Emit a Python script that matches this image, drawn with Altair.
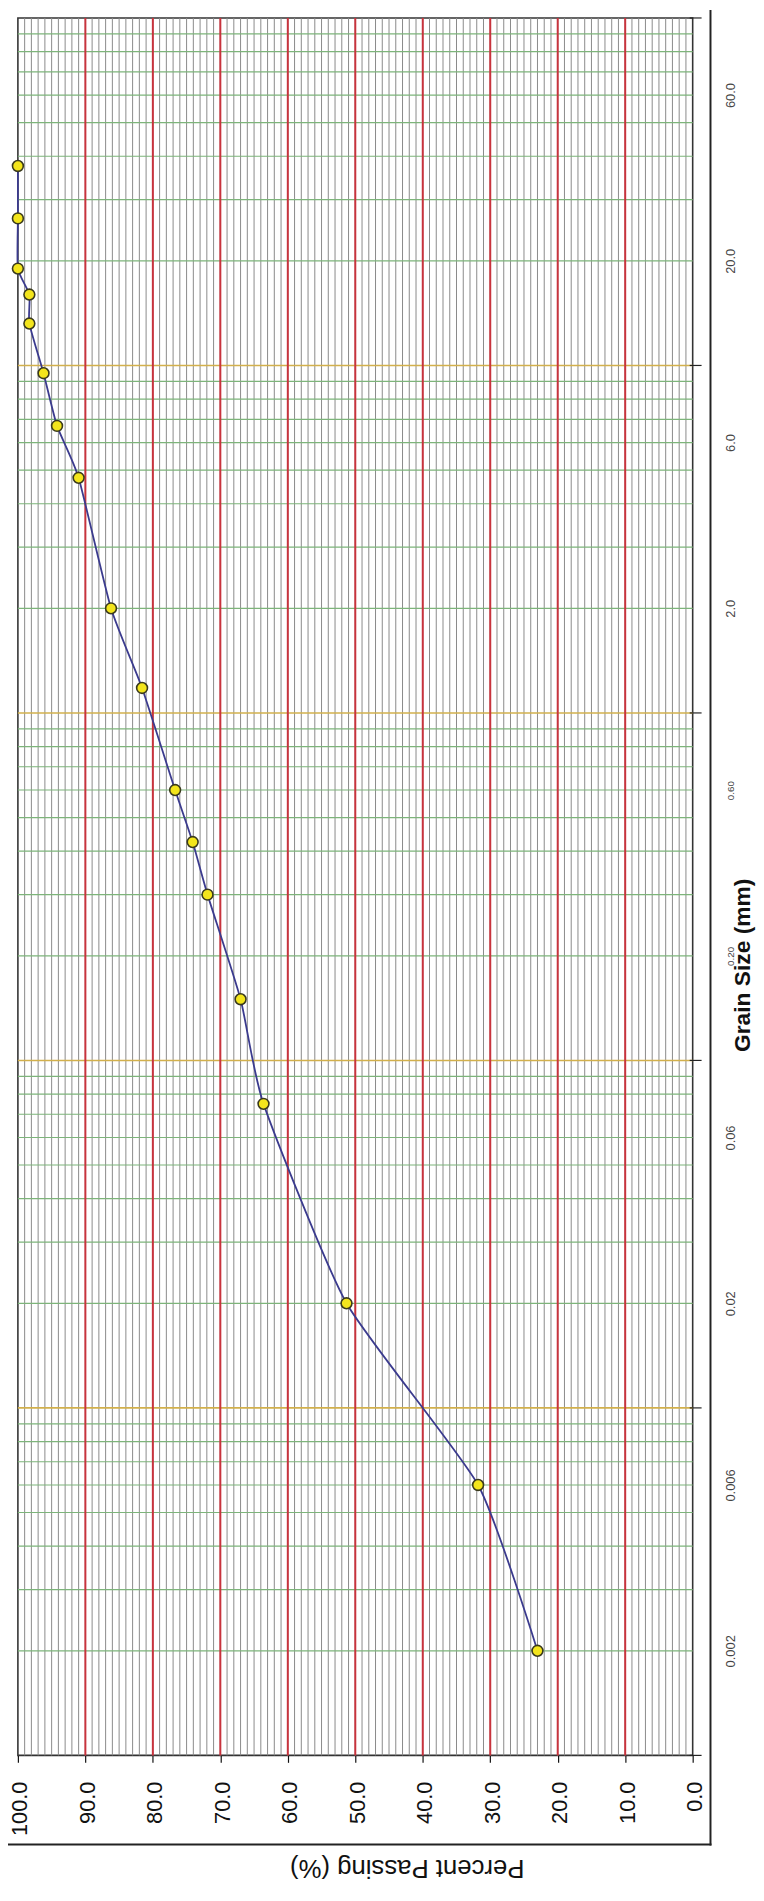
import altair as alt
import pandas as pd

# ---- data ----
grain_size_mm = [37.5, 26.5, 19.0, 16.0, 13.2, 9.5, 6.7, 4.75, 2.0, 1.18,
                 0.6, 0.425, 0.3, 0.15, 0.075, 0.02, 0.006, 0.002]
percent_passing = [100.0, 100.0, 100.0, 98.3, 98.3, 96.2, 94.2, 91.0, 86.2, 81.6,
                   76.7, 74.1, 71.9, 67.0, 63.6, 51.3, 31.8, 23.0]

percent_ticks = [0, 10, 20, 30, 40, 50, 60, 70, 80, 90, 100]
size_label_values = [0.002, 0.006, 0.02, 0.06, 0.2, 0.6, 2.0, 6.0, 20.0, 60.0]

# grid positions (graph-paper lines, frame drawn separately)
percent_grid_minor = list(range(1, 100))
percent_grid_major = [10, 20, 30, 40, 50, 60, 70, 80, 90]
size_decades_inner = [0.01, 0.1, 1.0, 10.0]
size_decade_ticks = [0.001, 0.01, 0.1, 1.0, 10.0, 100.0]
size_subdivisions = [k * d for d in [0.001, 0.01, 0.1, 1.0, 10.0] for k in range(2, 10)]

W, H = 682, 1756

pts = pd.DataFrame({"size": grain_size_mm, "pct": percent_passing,
                    "idx": list(range(len(grain_size_mm)))})

x_scale = alt.Scale(domain=[0, 100], reverse=True, nice=False, zero=False)
y_scale = alt.Scale(type="log", domain=[0.001, 100], nice=False)

x_axis = alt.Axis(
    values=percent_ticks, format=".1f", labelAngle=270, labelAlign="right",
    labelBaseline="middle", labelFontSize=22, labelFont="Liberation Sans",
    labelColor="#111111", labelPadding=19, labelOffset=2, labelFlush=False,
    labelOverlap=False, tickSize=7, tickColor="#111111", tickWidth=1.2,
    domain=False, grid=False,
    title="Percent Passing (%)", titleAngle=180, titleFontSize=26,
    titleFont="Liberation Sans", titleFontWeight="normal", titleColor="#111111",
    titleX=393, titleY=113, titleAlign="center", titleBaseline="middle")

y_axis = alt.Axis(
    orient="right", values=size_label_values,
    labelExpr="datum.value >= 1 ? format(datum.value, '.1f') : (datum.value >= 0.1 ? format(datum.value, '.2f') : format(datum.value, '~g'))",
    labelAngle=270, labelAlign="center", labelBaseline="middle",
    labelFontSize={"condition": {"test": "datum.value > 0.1 && datum.value < 1", "value": 10}, "value": 13},
    labelFont="Liberation Sans", labelColor="#444444", labelPadding=38,
    labelFlush=False, labelOverlap=False, ticks=False, tickSize=0,
    domain=False, grid=False,
    title="Grain Size (mm)", titleAngle=270, titleFontSize=23,
    titleFont="Liberation Sans", titleFontWeight="bold", titleColor="#111111",
    titleX=50, titleY=957, titleAlign="center", titleBaseline="middle")

X = lambda: alt.X("pct:Q", scale=x_scale, axis=x_axis)
Y = lambda: alt.Y("size:Q", scale=y_scale, axis=y_axis)

border = pd.DataFrame({"k": [0]})
border_v = alt.Chart(border).mark_rect(color="#222222").encode(
    x=alt.value(W + 17), x2=alt.value(W + 19), y=alt.value(-8), y2=alt.value(H + 91))
border_h = alt.Chart(border).mark_rect(color="#222222").encode(
    x=alt.value(-18), x2=alt.value(W + 19), y=alt.value(H + 89), y2=alt.value(H + 91))

grid_minor_v = alt.Chart(pd.DataFrame({"pct": percent_grid_minor})).mark_rule(
    color="#8a8a8a", strokeWidth=1).encode(x=X())

grid_sub_h = alt.Chart(pd.DataFrame({"size": size_subdivisions})).mark_rule(
    color="#7db47a", strokeWidth=1.2).encode(y=Y())

grid_dec_h = alt.Chart(pd.DataFrame({"size": size_decades_inner})).mark_rule(
    color="#d2b04c", strokeWidth=1.6).encode(y=Y())

grid_major_v = alt.Chart(pd.DataFrame({"pct": percent_grid_major})).mark_rule(
    color="#c8333d", strokeWidth=2).encode(x=X())

dec_ticks = alt.Chart(pd.DataFrame({"size": size_decade_ticks})).mark_rule(
    color="#222222", strokeWidth=1.2).encode(
    y=Y(), x=alt.value(W - 3), x2=alt.value(W + 9))

curve = alt.Chart(pts).mark_line(
    color="#3b3b8e", strokeWidth=1.8, interpolate="cardinal", tension=0.45).encode(
    x=X(), y=Y(), order=alt.Order("idx:Q"))

dots = alt.Chart(pts).mark_circle(
    color="#f3e51c", opacity=1, size=120, stroke="#3a3a1c", strokeWidth=1.6).encode(
    x=X(), y=Y())

chart = alt.layer(
    border_v, border_h,
    grid_minor_v, grid_sub_h, grid_dec_h, grid_major_v, dec_ticks,
    curve, dots
).properties(
    width=W, height=H,
    autosize=alt.AutoSizeParams(type="none"),
    padding={"left": 10, "top": 0, "right": 64, "bottom": 129},
    background="white"
).configure_view(stroke="#333333", strokeWidth=1.6)

chart.save("out.html", embed_options={"renderer": "svg", "actions": False})
